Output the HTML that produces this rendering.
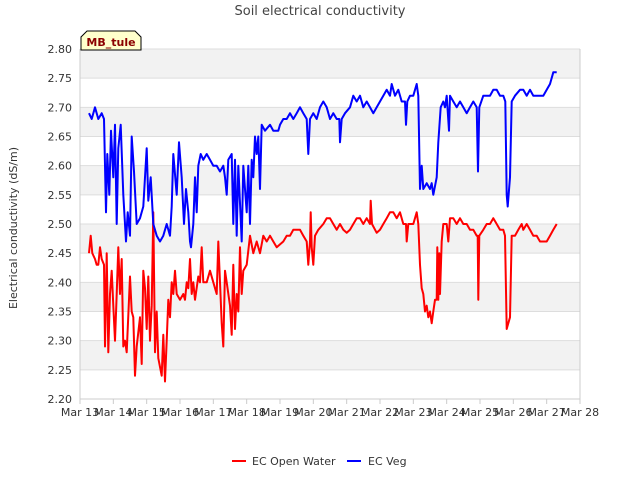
<!DOCTYPE html>
<html><head><meta charset="utf-8"><style>
body{margin:0;background:#fff;font-family:"Liberation Sans","DejaVu Sans",sans-serif}
svg text{font-family:"DejaVu Sans","Liberation Sans",sans-serif}
</style></head><body>
<svg id="c" width="640" height="480" viewBox="0 0 640 480" xmlns="http://www.w3.org/2000/svg">
<text x="320" y="15" text-anchor="middle" font-size="13" fill="#444">Soil electrical conductivity</text>
<g id="bands"></g><g id="grid"></g><g id="axes"></g><g id="series"></g>
<g>
<path d="M81,50 L81,37 L87,31 L135,31 L141,37 L141,50 Z" fill="#ffffcc" stroke="#000" stroke-width="1"/>
<text x="111" y="46" text-anchor="middle" font-size="11" font-weight="bold" fill="#8b0000">MB_tule</text>
</g>
<text transform="translate(17,228) rotate(-90)" text-anchor="middle" font-size="11" fill="#333">Electrical conductivity (dS/m)</text>
<g>
<g><line x1="232" y1="461" x2="246" y2="461" stroke="#f00" stroke-width="2"/><text x="252" y="465" font-size="11" fill="#333">EC Open Water</text></g>
<g><line x1="347" y1="461" x2="361" y2="461" stroke="#00f" stroke-width="2"/><text x="368" y="465" font-size="11" fill="#333">EC Veg</text></g>
</g>
</svg>
<script>
const xTickLabels=["Mar 13","Mar 14","Mar 15","Mar 16","Mar 17","Mar 18","Mar 19","Mar 20","Mar 21","Mar 22","Mar 23","Mar 24","Mar 25","Mar 26","Mar 27","Mar 28"];
const yTickValues=[2.20,2.25,2.30,2.35,2.40,2.45,2.50,2.55,2.60,2.65,2.70,2.75,2.80];
const vegDays=[0.27,0.35,0.45,0.55,0.65,0.72,0.78,0.82,0.88,0.93,1.0,1.05,1.1,1.15,1.22,1.3,1.38,1.43,1.5,1.55,1.62,1.7,1.8,1.9,2.0,2.05,2.12,2.2,2.3,2.4,2.5,2.6,2.7,2.75,2.8,2.9,2.97,3.05,3.12,3.18,3.25,3.3,3.33,3.4,3.45,3.5,3.55,3.62,3.7,3.8,3.9,4.0,4.1,4.2,4.3,4.35,4.4,4.45,4.55,4.6,4.65,4.7,4.75,4.85,4.9,5.0,5.05,5.1,5.15,5.2,5.25,5.3,5.35,5.4,5.45,5.55,5.7,5.8,5.95,
6.0,6.1,6.2,6.3,6.4,6.5,6.6,6.7,6.8,6.85,6.9,7.0,7.1,7.2,7.3,7.4,7.5,7.6,7.7,7.78,7.8,7.85,7.95,8.1,8.2,8.3,8.4,8.5,8.6,8.7,8.8,8.9,9.0,9.1,9.2,9.3,9.35,9.45,9.55,9.65,9.75,9.78,9.82,9.9,10.0,10.1,10.15,10.2,10.25,10.3,10.4,10.5,10.55,10.6,10.7,10.75,10.82,10.9,10.95,11.0,11.07,11.1,11.2,11.3,11.4,11.5,11.6,11.7,11.8,11.9,11.94,11.98,12.1,12.2,12.3,12.4,12.5,12.6,12.7,12.76,12.8,12.83,12.9,12.95,13.05,13.2,13.3,13.4,13.5,13.6,13.7,13.8,13.9,14.0,14.1,14.2,14.3];
const vegValues=[2.69,2.68,2.70,2.68,2.69,2.68,2.52,2.62,2.55,2.66,2.58,2.67,2.50,2.63,2.67,2.55,2.47,2.52,2.48,2.65,2.59,2.50,2.51,2.53,2.63,2.54,2.58,2.50,2.48,2.47,2.48,2.50,2.48,2.53,2.62,2.55,2.64,2.58,2.50,2.56,2.52,2.47,2.46,2.50,2.58,2.52,2.60,2.62,2.61,2.62,2.61,2.60,2.60,2.59,2.60,2.58,2.55,2.61,2.62,2.50,2.61,2.48,2.60,2.47,2.60,2.52,2.60,2.50,2.61,2.58,2.65,2.62,2.65,2.56,2.67,2.66,2.67,2.66,2.66,
2.67,2.68,2.68,2.69,2.68,2.69,2.70,2.69,2.68,2.62,2.68,2.69,2.68,2.70,2.71,2.70,2.68,2.69,2.68,2.68,2.64,2.68,2.69,2.70,2.72,2.71,2.72,2.70,2.71,2.70,2.69,2.70,2.71,2.72,2.73,2.72,2.74,2.72,2.73,2.71,2.71,2.67,2.71,2.72,2.72,2.74,2.72,2.56,2.60,2.56,2.57,2.56,2.57,2.55,2.58,2.64,2.70,2.71,2.70,2.72,2.66,2.72,2.71,2.70,2.71,2.70,2.69,2.70,2.71,2.70,2.59,2.70,2.72,2.72,2.72,2.73,2.73,2.72,2.72,2.71,2.55,2.53,2.58,2.71,2.72,2.73,2.73,2.72,2.73,2.72,2.72,2.72,2.72,2.73,2.74,2.76,2.76];
const owDays=[0.27,0.32,0.37,0.45,0.5,0.55,0.6,0.65,0.72,0.75,0.8,0.85,0.9,0.95,1.0,1.05,1.1,1.15,1.2,1.25,1.3,1.35,1.4,1.5,1.55,1.6,1.65,1.7,1.8,1.85,1.9,1.95,2.0,2.05,2.1,2.15,2.2,2.25,2.3,2.35,2.45,2.5,2.55,2.6,2.65,2.7,2.75,2.8,2.85,2.9,3.0,3.1,3.15,3.2,3.25,3.3,3.35,3.4,3.45,3.55,3.6,3.65,3.7,3.8,3.9,4.0,4.1,4.15,4.2,4.25,4.3,4.35,4.4,4.5,4.55,4.6,4.65,4.7,4.75,4.8,4.85,4.9,5.0,5.1,5.2,5.3,5.4,5.5,5.6,5.7,5.8,5.9,
6.0,6.1,6.2,6.3,6.4,6.5,6.6,6.7,6.8,6.85,6.9,6.92,6.95,7.0,7.05,7.15,7.3,7.4,7.5,7.6,7.7,7.8,7.9,8.0,8.1,8.2,8.3,8.4,8.5,8.6,8.7,8.72,8.76,8.9,9.0,9.1,9.2,9.3,9.4,9.5,9.6,9.7,9.78,9.8,9.85,10.0,10.1,10.15,10.2,10.25,10.3,10.35,10.4,10.45,10.5,10.55,10.6,10.65,10.7,10.72,10.75,10.78,10.8,10.85,10.9,11.0,11.05,11.1,11.2,11.3,11.4,11.5,11.6,11.7,11.8,11.9,11.93,11.95,11.98,12.1,12.2,12.3,12.4,12.5,12.6,12.7,12.75,12.8,12.85,12.9,12.95,13.05,13.15,13.25,13.3,13.4,13.5,13.6,13.7,13.8,13.9,14.0,14.1,14.2,14.3];
const owValues=[2.45,2.48,2.45,2.44,2.43,2.43,2.46,2.44,2.43,2.29,2.45,2.28,2.38,2.42,2.36,2.30,2.38,2.46,2.38,2.44,2.29,2.30,2.28,2.41,2.35,2.34,2.24,2.29,2.34,2.26,2.42,2.39,2.32,2.41,2.30,2.36,2.52,2.28,2.35,2.27,2.24,2.31,2.23,2.30,2.37,2.34,2.40,2.38,2.42,2.38,2.37,2.38,2.37,2.40,2.39,2.44,2.38,2.40,2.37,2.41,2.40,2.46,2.40,2.40,2.42,2.40,2.38,2.47,2.40,2.33,2.29,2.42,2.40,2.36,2.31,2.43,2.32,2.38,2.35,2.46,2.38,2.42,2.43,2.48,2.45,2.47,2.45,2.48,2.47,2.48,2.47,2.46,
2.465,2.47,2.48,2.48,2.49,2.49,2.49,2.48,2.47,2.43,2.47,2.52,2.46,2.43,2.48,2.49,2.50,2.51,2.51,2.50,2.49,2.50,2.49,2.485,2.49,2.50,2.51,2.51,2.50,2.51,2.50,2.54,2.50,2.485,2.49,2.50,2.51,2.52,2.52,2.51,2.52,2.50,2.50,2.47,2.50,2.50,2.52,2.50,2.43,2.39,2.38,2.35,2.36,2.34,2.35,2.33,2.35,2.37,2.37,2.46,2.37,2.45,2.38,2.47,2.50,2.50,2.47,2.51,2.51,2.50,2.51,2.50,2.50,2.49,2.49,2.48,2.48,2.37,2.48,2.49,2.50,2.50,2.51,2.50,2.49,2.49,2.48,2.32,2.33,2.34,2.48,2.48,2.49,2.50,2.49,2.50,2.49,2.48,2.48,2.47,2.47,2.47,2.48,2.49,2.50];
const X0=80,X1=580,Y0=399,Y1=49,D=15,VMIN=2.2,VMAX=2.8;
const xs=d=>X0+d*(X1-X0)/D, ys=v=>Y0-(v-VMIN)*(Y0-Y1)/(VMAX-VMIN);
const NS="http://www.w3.org/2000/svg";
function mk(tag,attrs,parent){const e=document.createElementNS(NS,tag);for(const k in attrs)e.setAttribute(k,attrs[k]);document.getElementById(parent).appendChild(e);return e;}
for(let i=0;i<yTickValues.length-1;i++){ if(i%2===1){const r=mk('rect',{x:X0,y:ys(yTickValues[i+1]),width:X1-X0,height:ys(yTickValues[i])-ys(yTickValues[i+1]),fill:'#f2f2f2'},'bands');

}}
yTickValues.forEach(v=>{const l=mk('line',{x1:X0,x2:X1,y1:ys(v),y2:ys(v),stroke:'#ddd','stroke-width':1},'grid');


const t=mk('text',{x:X0-8,y:ys(v)+4,'text-anchor':'end','font-size':11,fill:'#333'},'axes');t.textContent=v.toFixed(2);

});
const ax=mk('path',{d:`M${X0},${Y1} L${X0},${Y0} L${X1},${Y0} L${X1},${Y1}`,fill:'none',stroke:'#ccc'},'axes');


xTickLabels.forEach((s,i)=>{const x=xs(i);mk('line',{x1:x,x2:x,y1:Y0,y2:Y0+5,stroke:'#ccc'},'axes');
const t=mk('text',{x:x,y:Y0+17,'text-anchor':'middle','font-size':11,fill:'#333'},'axes');t.textContent=s;

});
function line(days,vals,color,name){const p=mk('path',{d:days.map((d,i)=>(i?'L':'M')+xs(d).toFixed(1)+','+ys(vals[i]).toFixed(1)).join(' '),fill:'none',stroke:color,'stroke-width':2,'stroke-linejoin':'round'},'series');

}
line(owDays,owValues,'#f00','ec-open-water-line');
line(vegDays,vegValues,'#00f','ec-veg-line');
</script>
</body></html>
